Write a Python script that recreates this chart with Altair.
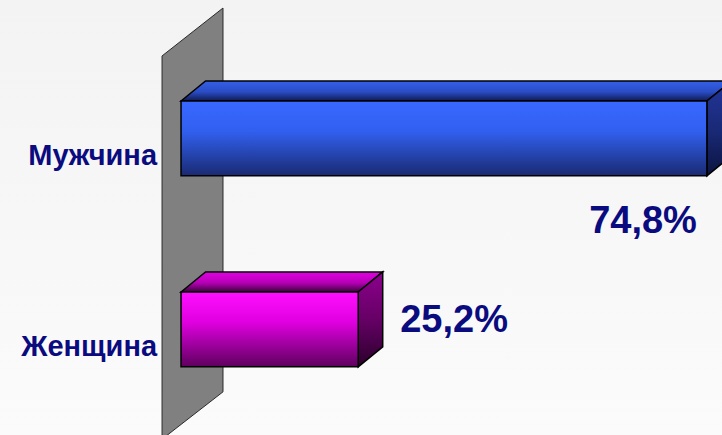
import altair as alt
import pandas as pd

# ---- data ----
categories = ["Мужчина", "Женщина"]
values = [74.8, 25.2]
value_labels = ["74,8%", "25,2%"]

# ---- geometry / style constants (not data) ----
W, H = 722, 435
X_DOMAIN = [-25.75, 76.95]      # percent units
Y_DOMAIN = [-0.725, 1.553]      # category-index units
HALF = 0.196                    # half bar thickness
DX = 3.49                       # 3D depth in x (percent units)
DY = 0.105                      # 3D depth in y (category units)
WALL_X = [-2.70, 5.97]
WALL_Y = [-0.432, -0.683]
WALL_Y2 = [1.575, 1.327]

NAVY = "#0b0b80"
FONT = "Liberation Sans"

FRONT = [
    [(0, "#3868ff"), (0.4, "#3160f0"), (1, "#1a2a72")],
    [(0, "#ff10ff"), (0.4, "#e000e0"), (1, "#5e005e")],
]
TOP = [
    [(0, "#3460e8"), (0.55, "#2a4cc4"), (1, "#0f1a50")],
    [(0, "#e400e4"), (0.55, "#b400b4"), (1, "#3e003e")],
]
SIDE = [
    [(0, "#22359a"), (0.5, "#1a2a78"), (1, "#0b1440")],
    [(0, "#8c008c"), (0.5, "#660066"), (1, "#2a002a")],
]
BG = [(0, "#f3f3f3"), (0.5, "#f7f7f7"), (1, "#fbfbfb")]


def grad(stops):
    return alt.Gradient(
        gradient="linear", x1=0, y1=0, x2=0, y2=1,
        stops=[alt.GradientStop(offset=o, color=c) for o, c in stops],
    )


xs = alt.Scale(domain=X_DOMAIN, nice=False, zero=False)
ys = alt.Scale(domain=Y_DOMAIN, nice=False, zero=False, reverse=True)


def area_layer(df, fill, stroke="black", sw=1.5):
    return alt.Chart(df).mark_area(
        orient="vertical", fill=fill, stroke=stroke, strokeWidth=sw,
        opacity=1, interpolate="linear", strokeJoin="miter",
    ).encode(
        x=alt.X("x:Q", scale=xs, axis=None),
        y=alt.Y("y:Q", scale=ys, axis=None),
        y2="y2:Q",
    )


layers = []

# background panel (subtle gradient)
layers.append(
    alt.Chart(pd.DataFrame({"k": [0]})).mark_rect(
        fill=grad(BG), strokeWidth=0, opacity=1
    ).encode(
        x=alt.value(0), x2=alt.value(W), y=alt.value(0), y2=alt.value(H)
    )
)

# back wall
wall_df = pd.DataFrame({"x": WALL_X, "y": WALL_Y, "y2": WALL_Y2})
layers.append(area_layer(wall_df, "#808080", stroke="#2a2a2a", sw=1))

for i, (cat, v) in enumerate(zip(categories, values)):
    top = i - HALF
    bot = i + HALF
    top_df = pd.DataFrame({
        "x": [0, DX, v, v + DX],
        "y": [top, top - DY, top - DY, top - DY],
        "y2": [top, top, top, top - DY],
    })
    side_df = pd.DataFrame({
        "x": [v, v + DX],
        "y": [top, top - DY],
        "y2": [bot, bot - DY],
    })
    front_df = pd.DataFrame({"x": [0], "x2": [v], "y": [top], "y2": [bot]})
    layers.append(area_layer(top_df, grad(TOP[i])))
    layers.append(area_layer(side_df, grad(SIDE[i])))
    layers.append(
        alt.Chart(front_df).mark_rect(
            fill=grad(FRONT[i]), stroke="black", strokeWidth=1.5, opacity=1
        ).encode(
            x=alt.X("x:Q", scale=xs, axis=None),
            x2="x2:Q",
            y=alt.Y("y:Q", scale=ys, axis=None),
            y2="y2:Q",
        )
    )

# category labels
cat_df = pd.DataFrame({"x": [0, 0], "y": [0, 1], "label": categories})
layers.append(
    alt.Chart(cat_df).mark_text(
        align="right", baseline="middle", dx=-24, dy=18,
        font=FONT, fontSize=29, fontWeight="bold", color=NAVY,
    ).encode(
        x=alt.X("x:Q", scale=xs, axis=None),
        y=alt.Y("y:Q", scale=ys, axis=None),
        text="label:N",
    )
)

# value labels
v1 = pd.DataFrame({"x": [values[0]], "y": [0], "label": [value_labels[0]]})
v2 = pd.DataFrame({"x": [values[1]], "y": [1], "label": [value_labels[1]]})
layers.append(
    alt.Chart(v1).mark_text(
        align="right", baseline="middle", dx=-10, dy=84,
        font=FONT, fontSize=38, fontWeight="bold", color=NAVY,
    ).encode(
        x=alt.X("x:Q", scale=xs, axis=None),
        y=alt.Y("y:Q", scale=ys, axis=None),
        text="label:N",
    )
)
layers.append(
    alt.Chart(v2).mark_text(
        align="left", baseline="middle", dx=42, dy=-8,
        font=FONT, fontSize=38, fontWeight="bold", color=NAVY,
    ).encode(
        x=alt.X("x:Q", scale=xs, axis=None),
        y=alt.Y("y:Q", scale=ys, axis=None),
        text="label:N",
    )
)

chart = alt.layer(*layers).properties(
    width=W, height=H, padding=0, autosize="none", background="#f7f7f7",
).configure_view(
    fill="#f7f7f7",
    strokeWidth=0,
)

chart.save("out.html", embed_options={"renderer": "svg", "actions": False})
